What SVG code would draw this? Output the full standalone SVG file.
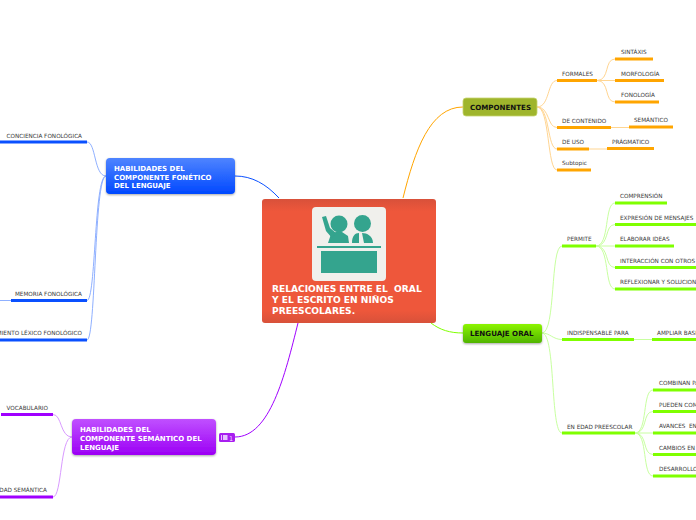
<svg xmlns="http://www.w3.org/2000/svg" width="696" height="520" viewBox="0 0 696 520">
<style>
text{font-family:"DejaVu Sans","Liberation Sans",sans-serif;white-space:pre}
.t{font-size:5.7px;fill:#3a3a3a}
.e{text-anchor:end}
.h{font-size:7px;font-weight:bold;fill:#fff}
.k{font-size:7.1px;font-weight:bold;fill:#111}
.c{font-size:9.1px;font-weight:bold;fill:#fff}
.l{fill:none;stroke-width:1}
.o{stroke:#ffa500}.ol{stroke:#ffd591}
.g{stroke:#7fff00}.gl{stroke:#c8ffa0}
.b{stroke:#0a50ff}.bl{stroke:#8fb0ff}
.p{stroke:#a000ff}.pl{stroke:#d99aff}
.u{fill:none;stroke-width:3}
</style>
<defs>
<linearGradient id="gc" x1="0" y1="0" x2="0" y2="1"><stop offset="0" stop-color="#d8513a"/><stop offset=".1" stop-color="#ee573b"/><stop offset=".9" stop-color="#ee573b"/><stop offset="1" stop-color="#d8513a"/></linearGradient>
<linearGradient id="gb" x1="0" y1="0" x2="0" y2="1"><stop offset="0" stop-color="#4f84ff"/><stop offset="1" stop-color="#0048ff"/></linearGradient>
<linearGradient id="gp" x1="0" y1="0" x2="0" y2="1"><stop offset="0" stop-color="#c050ff"/><stop offset="1" stop-color="#9c00f5"/></linearGradient>
<linearGradient id="gg" x1="0" y1="0" x2="0" y2="1"><stop offset="0" stop-color="#8cf500"/><stop offset="1" stop-color="#50b400"/></linearGradient>
<filter id="s" x="-5%" y="-10%" width="110%" height="125%"><feDropShadow dx="0" dy="1" stdDeviation="1" flood-color="#000" flood-opacity=".35"/></filter>
</defs>
<g id="connectors">
<path class="l o" d="M403 198C415 150 430 107 463 107"/>
<path class="l b" d="M279 198C266 184 252 176 235 176"/>
<path class="l p" d="M298 323C285 375 270 437 235 437"/>
<path class="l g" d="M431 323C440 330 450 333 463 333"/>
<g class="l ol">
<path d="M537 107C550 107 547 80.500 557 80.500"/>
<path d="M537 107C550 107 547 127.500 557 127.500"/>
<path d="M537 107C550 107 547 149 557 149"/>
<path d="M537 107C550 107 547 170 557 170"/>
<path d="M611 127.500H629"/><path d="M589 149H607"/>
<path d="M597 80.500C610 80.500 604 59 615 59"/>
<path d="M597 80.500H615"/>
<path d="M597 80.500C610 80.500 604 102 615 102"/>
</g>
<g class="l gl">
<path d="M542 333C556 333 550 246 562 246"/>
<path d="M542 333C550 333 553 339.500 562 339.500"/>
<path d="M542 333C556 333 550 433 562 433"/>
<path d="M634 339.500H652"/>
<path d="M596 246C610 246 604 203 615 203"/>
<path d="M596 246C610 246 604 224.500 615 224.500"/>
<path d="M596 246H615"/>
<path d="M596 246C610 246 604 267.500 615 267.500"/>
<path d="M596 246C610 246 604 289 615 289"/>
<path d="M635 433C648 433 642 390 653 390"/>
<path d="M635 433C648 433 642 411.500 653 411.500"/>
<path d="M635 433H653"/>
<path d="M635 433C648 433 642 454.500 653 454.500"/>
<path d="M635 433C648 433 642 476 653 476"/>
</g>
<g class="l bl">
<path d="M106 176C94 176 96 142 87 142"/>
<path d="M106 176C94 176 96 300.500 87 300.500"/>
<path d="M106 176C94 176 96 340 87 340"/>
<path d="M0 300.500H11"/>
</g>
<g class="l pl">
<path d="M72 437C60 437 62 414.500 53 414.500"/>
<path d="M72 437C60 437 62 497 53 497"/>
</g>
</g>
<g id="central">
<rect x="262" y="199" width="174" height="124" rx="3" fill="url(#gc)"/>
<rect x="312" y="207" width="74" height="74" rx="4" fill="#f0f0ec"/>
<g fill="#34a48e">
<circle cx="339" cy="224" r="8.500"/>
<circle cx="362.500" cy="223.500" r="8.500"/>
<path d="M328 243L331 234L336 232H342L348 236L349 243Z"/>
<path d="M352 243C352 236 355 233 359 233V243ZM362 233C367 233 373 236 373 243H364Z"/>
<path d="M322 217L326 216L330 228L336 233L332 238L326 231Z"/>
<rect x="317" y="246" width="64" height="2"/>
<rect x="321" y="251" width="56" height="22"/>
</g>
<text class="c" x="272" y="292">RELACIONES ENTRE EL  ORAL</text>
<text class="c" x="272" y="303">Y EL ESCRITO EN NIÑOS</text>
<text class="c" x="272" y="314">PREESCOLARES.</text>
</g>
<g id="componentes">
<rect x="463" y="98" width="74" height="18" rx="3" fill="#9fb52c" stroke="#c6d46f" stroke-width=".8"/>
<text class="k" x="470" y="110">COMPONENTES</text>
</g>
<g id="formales"><path class="u o" d="M557 80.500H597"/><text class="t" x="562" y="76">FORMALES</text></g>
<g id="sintaxis"><path class="u o" d="M615 59H653"/><text class="t" x="621" y="54">SINTÁXIS</text></g>
<g id="morfologia"><path class="u o" d="M615 80.500H664"/><text class="t" x="621" y="76">MORFOLOGÍA</text></g>
<g id="fonologia"><path class="u o" d="M615 102H659"/><text class="t" x="621" y="97">FONOLOGÍA</text></g>
<g id="contenido"><path class="u o" d="M557 127.500H611"/><text class="t" x="562" y="123">DE CONTENIDO</text></g>
<g id="semantico"><path class="u o" d="M629 127H673"/><text class="t" x="634" y="122">SEMÁNTICO</text></g>
<g id="deuso"><path class="u o" d="M557 149H589"/><text class="t" x="562" y="144">DE USO</text></g>
<g id="pragmatico"><path class="u o" d="M607 148.500H654"/><text class="t" x="612" y="144">PRÁGMATICO</text></g>
<g id="subtopic"><path class="u o" d="M557 170H591"/><text class="t" x="562" y="165">Subtopic</text></g>
<g id="lenguaje">
<rect x="463" y="324" width="79" height="19" rx="3" fill="url(#gg)" filter="url(#s)"/>
<text class="k" x="470" y="336">LENGUAJE ORAL</text>
</g>
<g id="permite"><path class="u g" d="M562 246H596"/><text class="t" x="567" y="241">PERMITE</text></g>
<g id="comprension"><path class="u g" d="M615 203H667"/><text class="t" x="620" y="198">COMPRENSIÓN</text></g>
<g id="expresion"><path class="u g" d="M615 224.500H696"/><text class="t" x="620" y="220">EXPRESIÓN DE MENSAJES</text></g>
<g id="elaborar"><path class="u g" d="M615 246H674"/><text class="t" x="620" y="241">ELABORAR IDEAS</text></g>
<g id="interaccion"><path class="u g" d="M615 267.500H696"/><text class="t" x="620" y="263">INTERACCIÓN CON OTROS</text></g>
<g id="reflexionar"><path class="u g" d="M615 289H696"/><text class="t" x="620" y="284">REFLEXIONAR Y SOLUCION</text></g>
<g id="indispensable"><path class="u g" d="M562 339.500H634"/><text class="t" x="567" y="335">INDISPENSABLE PARA</text></g>
<g id="ampliar"><path class="u g" d="M652 339.500H696"/><text class="t" x="657" y="335">AMPLIAR BASE</text></g>
<g id="edad"><path class="u g" d="M562 433H635"/><text class="t" x="567" y="429">EN EDAD PREESCOLAR</text></g>
<g id="combinan"><path class="u g" d="M653 390H696"/><text class="t" x="659" y="385">COMBINAN PA</text></g>
<g id="pueden"><path class="u g" d="M653 411.500H696"/><text class="t" x="659" y="407">PUEDEN COM</text></g>
<g id="avances"><path class="u g" d="M653 433H696"/><text class="t" x="659" y="428">AVANCES  EN</text></g>
<g id="cambios"><path class="u g" d="M653 454.500H696"/><text class="t" x="659" y="450">CAMBIOS EN</text></g>
<g id="desarrollo"><path class="u g" d="M653 476H696"/><text class="t" x="659" y="471">DESARROLLO</text></g>
<g id="fonetico">
<rect x="106" y="158" width="129" height="36" rx="4" fill="url(#gb)" filter="url(#s)"/>
<text class="h" x="114" y="170.500">HABILIDADES DEL</text>
<text class="h" x="114" y="179.500">COMPONENTE FONÉTICO</text>
<text class="h" x="114" y="188">DEL LENGUAJE</text>
</g>
<g id="conciencia"><path class="u b" d="M0 142H87"/><text class="t e" x="82" y="138">CONCIENCIA FONOLÓGICA</text></g>
<g id="memoria"><path class="u b" d="M11 300.500H87"/><text class="t e" x="82" y="296">MEMORIA FONOLÓGICA</text></g>
<g id="lexico"><path class="u b" d="M0 340H87"/><text class="t e" x="82" y="335">MIENTO LÉXICO FONOLÓGICO</text></g>
<g id="semantica">
<rect x="72" y="419" width="144" height="36" rx="4" fill="url(#gp)" filter="url(#s)"/>
<text class="h" x="80" y="432">HABILIDADES DEL</text>
<text class="h" x="80" y="440.500">COMPONENTE SEMÁNTICO DEL</text>
<text class="h" x="80" y="449.500">LENGUAJE</text>
</g>
<g id="badge">
<rect x="219" y="433" width="16" height="9" rx="1.500" fill="#a81ef0"/>
<rect x="221" y="435" width="1" height="5" fill="#e6c4ff"/><rect x="223" y="435" width="4.500" height="5" fill="#e6c4ff"/>
<text x="229" y="440.500" font-size="6.500" fill="#f0dcff">1</text>
</g>
<g id="vocabulario"><path class="u p" d="M1 414.500H53"/><text class="t e" x="48" y="410">VOCABULARIO</text></g>
<g id="dadsemantica"><path class="u p" d="M0 497H53"/><text class="t e" x="47" y="492">DAD SEMÁNTICA</text></g>
</svg>
